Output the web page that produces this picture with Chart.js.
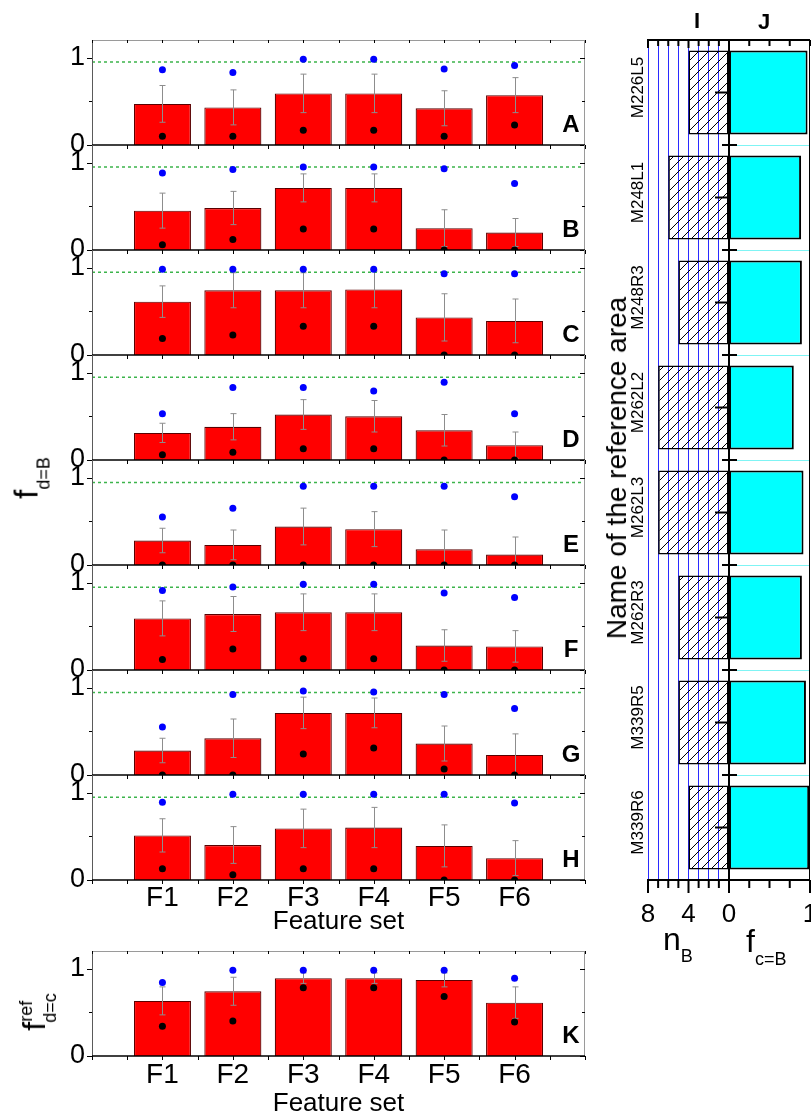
<!DOCTYPE html>
<html>
<head>
<meta charset="utf-8">
<script src="https://cdn.jsdelivr.net/npm/chart.js@4.4.1/dist/chart.umd.min.js"></script>
<style>
html, body { margin: 0; padding: 0; background: #fff; overflow: hidden; width: 811px; height: 1115px; }
body { position: relative; font-family: "Liberation Sans", Arial, sans-serif; }
canvas { position: absolute; }
.t { position: absolute; white-space: nowrap; line-height: 1; color: #000; z-index: 5; }
.c { transform: translate(-50%, -50%); }
.rot { transform: translate(-50%, -50%) rotate(-90deg); }
.sb { position: relative; }
</style>
</head>
<body>
<div class="t rot" style="left:26px; top:478px; font-size:33px;">f<span class="sb" style="font-size:18px; top:12px;">d=B</span></div>
<div class="t rot" style="left:34px; top:1012px; font-size:32px;">f<span class="sb" style="font-size:18px; top:-13px;">ref</span><span class="sb" style="font-size:18px; top:11px; margin-left:-22px;">d=c</span></div>
<div class="t rot" style="left:617px; top:468px; font-size:28px;">Name of the reference area</div>
<div class="t c" style="left:697px; top:21px; font-size:22px; font-weight:bold;">I</div>
<div class="t c" style="left:764px; top:22px; font-size:22px; font-weight:bold;">J</div>
<div class="t" style="left:663px; top:923px; font-size:32px;">n<span class="sb" style="font-size:18px; top:12px;">B</span></div>
<div class="t" style="left:746px; top:925px; font-size:32px;">f<span class="sb" style="font-size:18px; top:13px;">c=B</span></div>

<script>
// feature-set panels A..H and K
const features = ['F1', 'F2', 'F3', 'F4', 'F5', 'F6'];
const featurePos = [1, 2, 3, 4, 5, 6];
const xRange = [0, 7];
const xTickVals = [0, 0.5, 1, 1.5, 2, 2.5, 3, 3.5, 4, 4.5, 5, 5.5, 6, 6.5, 7];
const yTickVals = [0, 0.5, 1];

const panels = ['A', 'B', 'C', 'D', 'E', 'F', 'G', 'H'];
const barValues = [
  [0.47, 0.43, 0.59, 0.59, 0.42, 0.57],
  [0.45, 0.48, 0.71, 0.71, 0.25, 0.20],
  [0.61, 0.74, 0.74, 0.75, 0.43, 0.39],
  [0.31, 0.38, 0.52, 0.50, 0.34, 0.17],
  [0.28, 0.23, 0.44, 0.41, 0.18, 0.12],
  [0.59, 0.64, 0.66, 0.66, 0.28, 0.27],
  [0.28, 0.42, 0.71, 0.71, 0.36, 0.23],
  [0.51, 0.40, 0.59, 0.60, 0.39, 0.25]
];
const errValues = [
  [0.21, 0.20, 0.22, 0.22, 0.20, 0.20],
  [0.20, 0.19, 0.16, 0.16, 0.21, 0.16],
  [0.18, 0.20, 0.20, 0.21, 0.27, 0.25],
  [0.11, 0.15, 0.17, 0.18, 0.18, 0.15],
  [0.14, 0.17, 0.21, 0.20, 0.22, 0.20],
  [0.20, 0.20, 0.21, 0.21, 0.18, 0.18],
  [0.14, 0.22, 0.18, 0.17, 0.20, 0.24],
  [0.19, 0.21, 0.22, 0.23, 0.24, 0.20]
];
const blueValues = [
  [0.86, 0.83, 0.98, 0.98, 0.87, 0.91],
  [0.88, 0.92, 0.95, 0.95, 0.93, 0.76],
  [0.98, 0.98, 0.98, 0.98, 0.93, 0.93],
  [0.53, 0.83, 0.83, 0.79, 0.89, 0.53],
  [0.55, 0.65, 0.90, 0.90, 0.90, 0.78],
  [0.91, 0.95, 0.98, 0.98, 0.88, 0.83],
  [0.55, 0.92, 0.96, 0.95, 0.92, 0.76],
  [0.89, 0.98, 0.98, 0.98, 0.98, 0.88]
];
const blackValues = [
  [0.10, 0.10, 0.17, 0.17, 0.10, 0.23],
  [0.06, 0.12, 0.24, 0.24, 0.00, 0.00],
  [0.19, 0.23, 0.33, 0.33, 0.00, 0.00],
  [0.06, 0.09, 0.13, 0.13, 0.00, 0.00],
  [0.00, 0.00, 0.00, 0.00, 0.00, 0.00],
  [0.12, 0.24, 0.13, 0.13, 0.00, 0.00],
  [0.00, 0.00, 0.24, 0.31, 0.07, 0.00],
  [0.13, 0.06, 0.13, 0.13, 0.00, 0.00]
];
const refLevel = [0.95, 0.95, 0.946, 0.946, 0.944, 0.946, 0.944, 0.946];

const barK = [0.63, 0.74, 0.89, 0.89, 0.87, 0.61];
const errK = [0.16, 0.16, 0.06, 0.06, 0.08, 0.18];
const blueK = [0.84, 0.98, 0.98, 0.98, 0.98, 0.89];
const blackK = [0.34, 0.40, 0.78, 0.78, 0.68, 0.39];

// reference areas I / J
const areas = ['M226L5', 'M248L1', 'M248R3', 'M262L2', 'M262L3', 'M262R3', 'M339R5', 'M339R6'];
const nB = [4, 6, 5, 7, 7, 5, 5, 4];
const fcB = [0.97, 0.89, 0.90, 0.80, 0.92, 0.90, 0.95, 0.99];
const nTickVals = [0, 1, 2, 3, 4, 5, 6, 7, 8];
const nLabelVals = [0, 4, 8];
const fTickVals = [0, 0.25, 0.5, 0.75, 1];

Chart.defaults.font.family = '"Liberation Sans", Arial, sans-serif';
Chart.defaults.color = '#000';

const PANEL_H = 105;
const PAD_TOP = 26;

function addCanvas(left, top, w, h) {
  const cv = document.createElement('canvas');
  cv.width = w; cv.height = h;
  cv.style.left = left + 'px'; cv.style.top = top + 'px';
  cv.style.width = w + 'px'; cv.style.height = h + 'px';
  document.body.appendChild(cv);
  return cv;
}

function seg(ctx, x1, y1, x2, y2) {
  ctx.beginPath(); ctx.moveTo(x1, y1); ctx.lineTo(x2, y2); ctx.stroke();
}

function panelDecor(letter, bar, err, topEdge) {
  return {
    id: 'panelDecor',
    afterDatasetDraw(chart, args) {
      if (chart.data.datasets[args.index].type !== 'bar') return;
      const ctx = chart.ctx, ys = chart.scales.y, a = chart.chartArea;
      ctx.save();
      ctx.beginPath(); ctx.rect(a.left, a.top, a.right - a.left, a.bottom - a.top); ctx.clip();
      ctx.strokeStyle = '#8d8d8d'; ctx.lineWidth = 1;
      ctx.beginPath();
      args.meta.data.forEach((el, j) => {
        const x = Math.round(el.x) + 0.5;
        const y1 = ys.getPixelForValue(bar[j] + err[j]);
        const y2 = ys.getPixelForValue(bar[j] - err[j]);
        ctx.moveTo(x, y1); ctx.lineTo(x, y2);
        ctx.moveTo(x - 3, y1); ctx.lineTo(x + 3, y1);
        ctx.moveTo(x - 3, y2); ctx.lineTo(x + 3, y2);
      });
      ctx.stroke();
      ctx.restore();
    },
    afterDraw(chart) {
      const ctx = chart.ctx, a = chart.chartArea, xs = chart.scales.x, ys = chart.scales.y;
      ctx.save();
      ctx.lineWidth = 1;
      ctx.strokeStyle = '#9a9a9a';
      if (topEdge) seg(ctx, a.left, a.top + 0.5, a.right, a.top + 0.5);
      seg(ctx, a.right - 0.5, a.top, a.right - 0.5, a.bottom);
      ctx.strokeStyle = '#5a5a5a';
      seg(ctx, a.left + 0.5, a.top, a.left + 0.5, a.bottom);
      ctx.strokeStyle = '#000';
      xTickVals.forEach(v => {
        const x = Math.round(xs.getPixelForValue(v)) + 0.5;
        seg(ctx, x, a.bottom, x, a.bottom + 4);
        if (topEdge) seg(ctx, x, a.top, x, a.top + 3);
      });
      yTickVals.forEach(v => {
        const y = Math.round(ys.getPixelForValue(v)) + 0.5;
        const len = v === 0.5 ? 3 : 5;
        seg(ctx, a.left - len, y, a.left, y);
        seg(ctx, a.right - len, y, a.right, y);
      });
      ctx.lineWidth = 1.5;
      seg(ctx, a.left, a.bottom, a.right, a.bottom);
      ctx.fillStyle = '#000';
      ctx.font = 'bold 24px "Liberation Sans", Arial, sans-serif';
      ctx.textAlign = 'center';
      ctx.textBaseline = 'alphabetic';
      ctx.fillText(letter, a.right - 14, a.bottom - 13);
      ctx.restore();
    }
  };
}

function featureChart(cv, o) {
  const datasets = [
    { type: 'line', order: 1, showLine: false, clip: 0,
      data: featurePos.map((x, j) => ({ x: x, y: o.blue[j] })),
      pointRadius: 3.5, pointBorderWidth: 0, pointBackgroundColor: '#0000ff' },
    { type: 'line', order: 1, showLine: false, clip: 0,
      data: featurePos.map((x, j) => ({ x: x, y: o.black[j] })),
      pointRadius: 3.5, pointBorderWidth: 0, pointBackgroundColor: '#000' },
    { type: 'bar', order: 3,
      data: featurePos.map((x, j) => ({ x: x, y: o.bar[j] })),
      backgroundColor: '#ff0000', borderColor: '#5a0000', borderWidth: 1.2,
      barPercentage: 0.81, categoryPercentage: 1 }
  ];
  if (o.ref !== undefined) {
    datasets.push({ type: 'line', order: 2, clip: 0,
      data: xRange.map(x => ({ x: x, y: o.ref })),
      borderColor: '#3cb44b', borderWidth: 1.5, borderDash: [3, 3], pointRadius: 0 });
  }
  return new Chart(cv, {
    type: 'bar',
    data: { datasets: datasets },
    options: {
      responsive: false, animation: false, events: [],
      layout: { padding: { top: PAD_TOP, right: 15, left: 0, bottom: 0 } },
      plugins: { legend: { display: false }, tooltip: { enabled: false } },
      scales: {
        x: {
          type: 'linear', min: xRange[0], max: xRange[1], offset: false,
          afterBuildTicks: s => { s.ticks = featurePos.map(v => ({ value: v })); },
          afterFit: s => { s.height = o.axisH; },
          ticks: { display: !!o.labels, callback: (v, i) => features[i], font: { size: 28 },
                   padding: o.tickPad, maxRotation: 0, autoSkip: false },
          title: { display: !!o.labels, text: 'Feature set', font: { size: 26 }, padding: 0 },
          grid: { display: false, drawTicks: false }, border: { display: false }
        },
        y: {
          min: 0, max: 1.2,
          afterBuildTicks: s => { s.ticks = yTickVals.map(v => ({ value: v })); },
          afterFit: s => { s.width = 92; },
          ticks: { callback: v => (v === 0.5 ? '' : String(v)), font: { size: 27 }, padding: 7 },
          grid: { display: false, drawTicks: false }, border: { display: false }
        }
      }
    },
    plugins: [panelDecor(o.letter, o.bar, o.err, o.topEdge)]
  });
}

panels.forEach((p, i) => {
  const last = i === panels.length - 1;
  const axisH = last ? 57 : 26;
  const top = 40 + PANEL_H * i;
  const cv = addCanvas(0, top - PAD_TOP, 600, PAD_TOP + PANEL_H + axisH);
  featureChart(cv, {
    letter: p, bar: barValues[i], err: errValues[i], blue: blueValues[i], black: blackValues[i],
    ref: refLevel[i], topEdge: i === 0, labels: last, axisH: axisH, tickPad: 1
  });
});

// panel K (no reference line)
featureChart(addCanvas(0, 951 - PAD_TOP, 600, PAD_TOP + PANEL_H + 63), {
  letter: 'K', bar: barK, err: errK, blue: blueK, black: blackK,
  topEdge: true, labels: true, axisH: 63, tickPad: 2
});

// hatch for n_B bars
function hatchPattern() {
  const c = document.createElement('canvas');
  c.width = 10; c.height = 10;
  const g = c.getContext('2d');
  g.strokeStyle = '#000'; g.lineWidth = 1;
  g.beginPath();
  g.moveTo(0, 10); g.lineTo(10, 0);
  g.moveTo(-5, 5); g.lineTo(5, -5);
  g.moveTo(5, 15); g.lineTo(15, 5);
  g.stroke();
  return g.createPattern(c, 'repeat');
}

const iDecor = {
  id: 'iDecor',
  afterDraw(chart) {
    const ctx = chart.ctx, a = chart.chartArea, xs = chart.scales.x, ys = chart.scales.y;
    ctx.save();
    ctx.strokeStyle = '#000'; ctx.lineWidth = 2;
    seg(ctx, a.left - 1, a.top, a.right, a.top);
    seg(ctx, a.left - 1, a.bottom, a.right, a.bottom);
    nTickVals.forEach(v => {
      const x = xs.getPixelForValue(v);
      const major = nLabelVals.includes(v);
      seg(ctx, x, a.bottom, x, a.bottom + (major ? 13 : 8));
      seg(ctx, x, a.top, x, a.top + (major ? 8 : 6));
    });
    ctx.fillStyle = '#000';
    ctx.font = '17px "Liberation Sans", Arial, sans-serif';
    ctx.textAlign = 'center'; ctx.textBaseline = 'alphabetic';
    areas.forEach((name, i) => {
      const y = ys.getPixelForValue(i);
      ctx.save();
      ctx.translate(a.left - 5, y - 5);
      ctx.rotate(-Math.PI / 2);
      ctx.fillText(name, 0, 0);
      ctx.restore();
    });
    ctx.restore();
  }
};

const jDecor = {
  id: 'jDecor',
  afterDraw(chart) {
    const ctx = chart.ctx, a = chart.chartArea, xs = chart.scales.x, ys = chart.scales.y;
    ctx.save();
    ctx.strokeStyle = '#000'; ctx.lineWidth = 2;
    seg(ctx, a.left, a.top, a.right, a.top);
    seg(ctx, a.left, a.bottom, a.right, a.bottom);
    ctx.lineWidth = 1;
    seg(ctx, a.right - 0.5, a.top, a.right - 0.5, a.bottom);
    ctx.lineWidth = 2;
    seg(ctx, a.left, a.top, a.left, a.bottom + 13);
    areas.forEach((_, i) => {
      const y = ys.getPixelForValue(i);
      seg(ctx, a.left - 14, y, a.left, y);
      if (i > 0) {
        const yb = ys.getPixelForValue(i - 0.5);
        seg(ctx, a.left - 7, yb, a.left + 8, yb);
      }
    });
    fTickVals.forEach(v => {
      const x = xs.getPixelForValue(v);
      const major = v === 0 || v === 1;
      seg(ctx, x, a.bottom, x, a.bottom + (major ? 13 : 8));
      seg(ctx, x, a.top, x, a.top + 6);
    });
    ctx.restore();
  }
};

const RIGHT_TOP = 20, RIGHT_H = 910;
// tall line box puts the tick labels ~35px under the axis without extra side padding
const rightTickFont = { size: 26, lineHeight: 2.7 };

new Chart(addCanvas(600, RIGHT_TOP, 150, RIGHT_H), {
  type: 'bar',
  data: {
    labels: areas,
    datasets: [{ data: nB, backgroundColor: hatchPattern(), borderColor: '#000', borderWidth: 1.5,
                 borderSkipped: false, barPercentage: 0.8, categoryPercentage: 1 }]
  },
  options: {
    indexAxis: 'y', responsive: false, animation: false, events: [],
    layout: { padding: { top: 20, right: 21, left: 0, bottom: 0 } },
    plugins: { legend: { display: false }, tooltip: { enabled: false } },
    scales: {
      x: {
        type: 'linear', min: 0, max: 8, reverse: true,
        afterBuildTicks: s => { s.ticks = nTickVals.map(v => ({ value: v })); },
        afterFit: s => { s.height = 50; },
        ticks: { callback: v => (nLabelVals.includes(v) ? String(v) : ''), font: rightTickFont,
                 padding: 0, maxRotation: 0, autoSkip: false },
        grid: { color: c => (c.tick && c.tick.value === 0 ? 'rgba(0,0,0,0)' : '#2b2bff'), lineWidth: 1, drawTicks: false },
        border: { display: false }
      },
      y: {
        afterFit: s => { s.width = 48; },
        ticks: { display: false }, grid: { display: false }, border: { display: false }
      }
    }
  },
  plugins: [iDecor]
});

new Chart(addCanvas(715, RIGHT_TOP, 115, RIGHT_H), {
  type: 'bar',
  data: {
    labels: areas,
    datasets: [{ data: fcB, backgroundColor: '#00ffff', borderColor: '#000', borderWidth: 2,
                 borderSkipped: false, barPercentage: 0.8, categoryPercentage: 1 }]
  },
  options: {
    indexAxis: 'y', responsive: false, animation: false, events: [],
    layout: { padding: { top: 20, right: 20, left: 0, bottom: 0 } },
    plugins: { legend: { display: false }, tooltip: { enabled: false } },
    scales: {
      x: {
        type: 'linear', min: 0, max: 1,
        afterBuildTicks: s => { s.ticks = fTickVals.map(v => ({ value: v })); },
        afterFit: s => { s.height = 50; },
        ticks: { callback: v => (v === 1 ? '1' : ''), font: rightTickFont, padding: 0, maxRotation: 0, autoSkip: false },
        grid: { display: false, drawTicks: false }, border: { display: false }
      },
      y: {
        afterFit: s => { s.width = 14; },
        ticks: { display: false },
        grid: { color: '#7ff4f4', lineWidth: 1, drawTicks: false, offset: true },
        border: { display: false }
      }
    }
  },
  plugins: [jDecor]
});
</script>
</body>
</html>
